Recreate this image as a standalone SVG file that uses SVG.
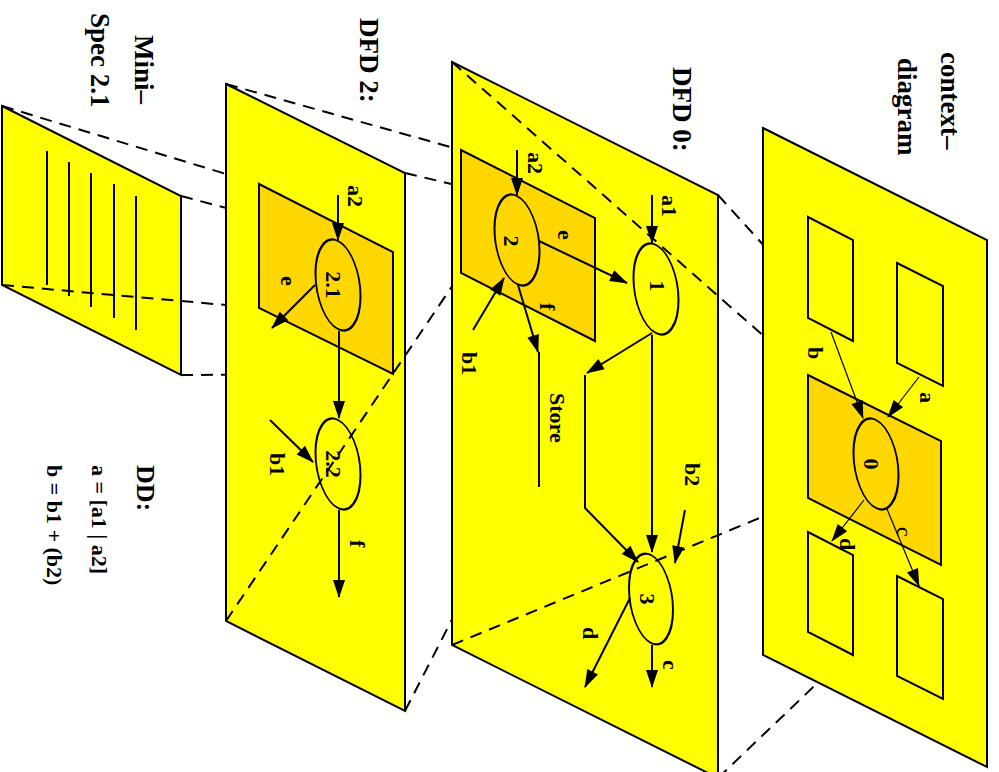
<svg xmlns="http://www.w3.org/2000/svg" width="999" height="772" viewBox="0 0 999 772">
<defs>
<marker id="ah" markerUnits="userSpaceOnUse" markerWidth="18" markerHeight="12" refX="17" refY="6" orient="auto" overflow="visible">
<path d="M0,0 L18,6 L0,12 z" fill="#000"/>
</marker>
<style>
.plane{fill:#ffff00;stroke:#000;stroke-width:2;stroke-linejoin:miter}
.sub{fill:#ffd700;stroke:#000;stroke-width:2}
.box{fill:none;stroke:#000;stroke-width:2}
.ell{fill:none;stroke:#000;stroke-width:2}
.dash{fill:none;stroke:#000;stroke-width:2;stroke-dasharray:12 8}
.ln{fill:none;stroke:#000;stroke-width:2}
.ar{fill:none;stroke:#000;stroke-width:2;marker-end:url(#ah)}
.thin{fill:none;stroke:#000;stroke-width:1.2;marker-end:url(#ah)}
text{font-family:"Liberation Serif","Times New Roman",serif;font-weight:bold;fill:#000}
.t{font-size:27px}
.l{font-size:22px}
.m{text-anchor:middle}
</style>
</defs>
<rect width="999" height="772" fill="#fff"/>

<g id="mini-spec">
<polygon class="plane" points="2,106 181,196 181,375 2,285"/>
<path class="ln" d="M47,151 V285 M69,162 V296 M91,173 V307 M114,184 V318 M136,196 V330"/>
</g>
<g id="proj-mini">
<path class="dash" d="M2,106 L259,184 M181,196 L393,252 M2,285 L259,308 M181,375 L393,374"/>
</g>

<g id="dfd2">
<polygon class="plane" points="226,84 405,173 405,711 226,621"/>
<polygon class="sub" points="259,184 393,252 393,374 259,308"/>
<g id="p2-1"><ellipse class="ell" cx="0" cy="0" rx="22.5" ry="44" transform="translate(338,285) matrix(1,0.5,0,1,0,0)"/>
<text class="l m" transform="translate(326,285) rotate(90)">2.1</text></g>
<g id="p2-2"><ellipse class="ell" cx="0" cy="0" rx="22.5" ry="44" transform="translate(338,464) matrix(1,0.5,0,1,0,0)"/>
<text class="l m" transform="translate(326,464) rotate(90)">2.2</text></g>
</g>
<g id="proj-dfd2">
<path class="dash" d="M226,84 L461,150 M405,173 L595,218 M226,621 L461,273 M405,711 L595,341"/>
</g>

<g id="dfd0">
<polygon class="plane" points="452,62 718,195 718,778 452,645"/>
<polygon class="sub" points="461,150 595,218 595,341 461,273"/>
<g id="p2"><ellipse class="ell" cx="0" cy="0" rx="22.5" ry="44" transform="translate(517,240) matrix(1,0.5,0,1,0,0)"/>
<text class="l m" transform="translate(504,241) rotate(90)">2</text></g>
<g id="p1"><ellipse class="ell" cx="0" cy="0" rx="22.5" ry="44" transform="translate(656,289) matrix(1,0.5,0,1,0,0)"/>
<text class="l m" transform="translate(650,286) rotate(90)">1</text></g>
<g id="p3"><ellipse class="ell" cx="0" cy="0" rx="22" ry="44" transform="translate(651,599) matrix(1,0.5,0,1,0,0)"/>
<text class="l m" transform="translate(640,599) rotate(90)">3</text></g>
<g id="store"><line class="ln" x1="539" y1="352" x2="539" y2="487"/>
<text class="l" transform="translate(550,393) rotate(90)">Store</text></g>
</g>
<g id="proj-dfd0">
<path class="dash" d="M452,62 L808,375 M718,195 L941,441 M452,645 L808,498 M718,778 L941,565"/>
</g>

<g id="context">
<polygon class="plane" points="763,128 987,240 987,767 763,655"/>
<polygon class="sub" points="808,375 941,441 941,565 808,498"/>
<g id="ext-a"><polygon class="box" points="897,263 943,286 943,386 897,363"/></g>
<g id="ext-b"><polygon class="box" points="808,217 853,240 853,341 808,318"/></g>
<g id="ext-d"><polygon class="box" points="808,532 853,555 853,655 808,632"/></g>
<g id="ext-c"><polygon class="box" points="897,576 943,599 943,699 897,676"/></g>
<g id="p0"><ellipse class="ell" cx="0" cy="0" rx="22.5" ry="44" transform="translate(876,464) matrix(1,0.5,0,1,0,0)"/>
<text class="l m" transform="translate(864,464) rotate(90)">0</text></g>
</g>

<g id="connectors">
<line class="ar" x1="338" y1="195" x2="338" y2="240"/>
<line class="ar" x1="315" y1="285" x2="272" y2="328"/>
<line class="ar" x1="339" y1="331" x2="339" y2="418"/>
<line class="ar" x1="270" y1="420" x2="313" y2="462"/>
<line class="ar" x1="339" y1="510" x2="339" y2="597"/>
<line class="ar" x1="652" y1="195" x2="652" y2="243"/>
<line class="ar" x1="517" y1="150" x2="517" y2="195"/>
<line class="ar" x1="539" y1="241" x2="627" y2="283"/>
<line class="ar" x1="518" y1="285" x2="538" y2="352"/>
<line class="ar" x1="473" y1="330" x2="504" y2="278"/>
<line class="ar" x1="652" y1="333" x2="587" y2="373"/>
<polyline class="ar" points="585,375 585,508 638,562"/>
<line class="ar" x1="652" y1="335" x2="652" y2="552"/>
<line class="ar" x1="685" y1="510" x2="675" y2="563"/>
<line class="ar" x1="630" y1="598" x2="585" y2="687"/>
<line class="ar" x1="652" y1="645" x2="652" y2="687"/>
<line class="thin" x1="831" y1="332" x2="863" y2="418"/>
<line class="thin" x1="919" y1="377" x2="888" y2="417"/>
<line class="thin" x1="864" y1="500" x2="832" y2="541"/>
<line class="thin" x1="887" y1="509" x2="919" y2="586"/>
<text class="l" transform="translate(348,185) rotate(90)">a2</text>
<text class="l" transform="translate(281,276) rotate(90)">e</text>
<text class="l" transform="translate(270,453) rotate(90)">b1</text>
<text class="l" transform="translate(350,540) rotate(90)">f</text>
<text class="l" transform="translate(662,195) rotate(90)">a1</text>
<text class="l" transform="translate(528,152) rotate(90)">a2</text>
<text class="l" transform="translate(558,230) rotate(90)">e</text>
<text class="l" transform="translate(540,303) rotate(90)">f</text>
<text class="l" transform="translate(462,352) rotate(90)">b1</text>
<text class="l" transform="translate(685,463) rotate(90)">b2</text>
<text class="l" transform="translate(583,627) rotate(90)">d</text>
<text class="l" transform="translate(663,660) rotate(90)">c</text>
<text class="l" transform="translate(920,392) rotate(90)">a</text>
<text class="l" transform="translate(808,347) rotate(90)">b</text>
<text class="l" transform="translate(840,538) rotate(90)">d</text>
<text class="l" style="font-weight:normal" transform="translate(897,527) rotate(90)">c</text>
</g>

<g id="titles">
<text class="t" transform="translate(941,52) rotate(90)">context–</text>
<text class="t" transform="translate(898,58) rotate(90)">diagram</text>
<text class="t" transform="translate(673,67) rotate(90)">DFD 0:</text>
<text class="t" transform="translate(360,18) rotate(90)">DFD 2:</text>
<text class="t" transform="translate(135,35) rotate(90)">Mini–</text>
<text class="t" transform="translate(91,13) rotate(90)">Spec 2.1</text>
</g>
<g id="dd">
<text class="t" style="font-size:26px" transform="translate(137,465) rotate(90)">DD:</text>
<text class="l" transform="translate(92,465) rotate(90)">a = [a1 | a2]</text>
<text class="l" transform="translate(47,465) rotate(90)">b = b1 + (b2)</text>
</g>
</svg>
